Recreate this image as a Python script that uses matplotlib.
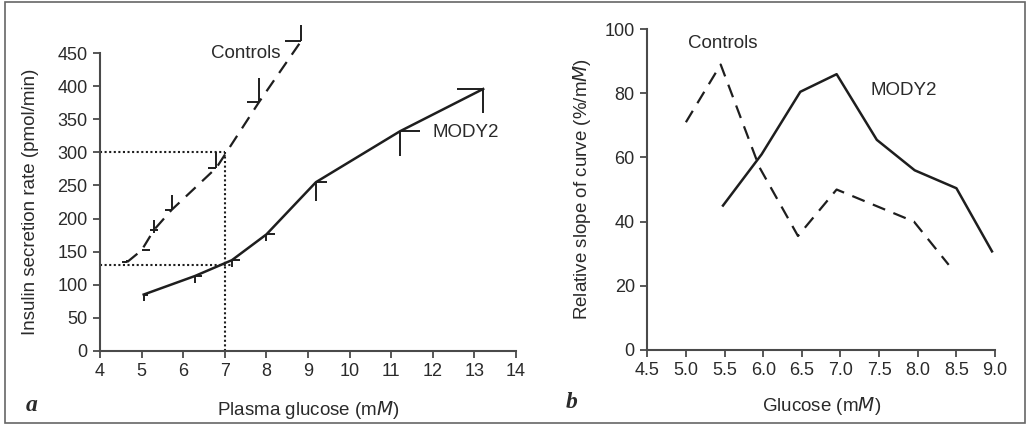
import matplotlib.pyplot as plt
from matplotlib.patches import Rectangle

plt.rcParams['font.family'] = ['Liberation Sans', 'DejaVu Sans']

# panel a: insulin secretion rate vs plasma glucose
ctrl_x = [4.65, 5.0, 5.3, 5.72, 6.8, 7.82, 8.83]
ctrl_y = [134, 152, 183, 213, 277, 376, 468]
ctrl_xerr_lo = [0.12, 0.0, 0.1, 0.16, 0.2, 0.29, 0.38]
ctrl_xerr_hi = [0.0, 0.2, 0.1, 0.0, 0.0, 0.0, 0.0]
ctrl_yerr_lo = [0, 0, 5, 0, 0, 0, 0]
ctrl_yerr_hi = [4, 0, 15, 23, 24, 37, 25]

mody_x = [5.05, 6.28, 7.17, 8.0, 9.19, 11.21, 13.21]
mody_y = [85, 113, 137, 176, 255, 332, 396]
mody_xerr_lo = [0.0, 0.0, 0.0, 0.0, 0.0, 0.0, 0.64]
mody_xerr_hi = [0.1, 0.16, 0.19, 0.2, 0.27, 0.48, 0.0]
mody_yerr_lo = [10, 11, 10, 10, 29, 38, 36]
mody_yerr_hi = [0, 0, 0, 0, 0, 0, 0]

# panel b: relative slope of curve
slope_ctrl_x = [5.0, 5.45, 5.95, 6.45, 6.95, 7.95, 8.4]
slope_ctrl_y = [71, 89, 57, 35.5, 50, 40, 26.5]
slope_mody_x = [5.48, 5.98, 6.48, 6.95, 7.47, 7.96, 8.5, 8.96]
slope_mody_y = [45, 61, 80.5, 86, 65.5, 56, 50.4, 30.7]

ink = '#1e1e1e'
axis_col = '#4a4a4a'
text_col = '#2a2a2a'
fs = 13.5

fig = plt.figure(figsize=(10.3, 4.26), dpi=100)
fig.patches.append(Rectangle((0.005, 0.006), 0.99, 0.99, transform=fig.transFigure,
                             fill=False, edgecolor='#666666', linewidth=1.2))

ax1 = fig.add_axes([0.0971, 0.1767, 0.4039, 0.6982])
ax2 = fig.add_axes([0.6284, 0.179, 0.3377, 0.7522])

for ax in (ax1, ax2):
    for s in ('top', 'right'):
        ax.spines[s].set_visible(False)
    for s in ('left', 'bottom'):
        ax.spines[s].set_color(axis_col)
        ax.spines[s].set_linewidth(1.5)
    ax.tick_params(direction='out', length=5, width=1.3, color=axis_col,
                   labelsize=13, labelcolor=text_col, pad=4)

# panel a
ax1.plot(ctrl_x, ctrl_y, color=ink, lw=1.6, dashes=(6, 4), clip_on=False)
ax1.errorbar(ctrl_x, ctrl_y, xerr=[ctrl_xerr_lo, ctrl_xerr_hi],
             yerr=[ctrl_yerr_lo, ctrl_yerr_hi], fmt='none', ecolor=ink,
             elinewidth=1.4, capsize=0, clip_on=False)
ax1.plot(mody_x, mody_y, color=ink, lw=1.8, clip_on=False)
ax1.errorbar(mody_x, mody_y, xerr=[mody_xerr_lo, mody_xerr_hi],
             yerr=[mody_yerr_lo, mody_yerr_hi], fmt='none', ecolor=ink,
             elinewidth=1.4, capsize=0, clip_on=False)

dot = dict(color=ink, lw=1.5, linestyle=(0, (1, 1.2)))
ax1.plot([4, 7], [300, 300], **dot)
ax1.plot([7, 7], [0, 300], **dot)
ax1.plot([4, 7.15], [130, 130], **dot)

ax1.set_xlim(4, 14)
ax1.set_ylim(0, 450)
ax1.set_xticks(range(4, 15))
ax1.set_yticks(range(0, 451, 50))
ax1.text(7.5, 449, 'Controls', ha='center', va='center', fontsize=fs, color=text_col)
ax1.text(12.0, 330, 'MODY2', ha='left', va='center', fontsize=fs, color=text_col)
ax1.set_xlabel('Plasma glucose (m$\\it{M}$)', fontsize=fs, color=text_col)
ax1.set_ylabel('Insulin secretion rate (pmol/min)', fontsize=fs, color=text_col)
ax1.xaxis.set_label_coords(0.5, -0.198, transform=ax1.transAxes)
ax1.yaxis.set_label_coords(-0.168, 0.5, transform=ax1.transAxes)
ax1.xaxis.label.set_va('center')
ax1.yaxis.label.set_va('center')

# panel b
ax2.plot(slope_ctrl_x, slope_ctrl_y, color=ink, lw=1.6, dashes=(6, 4))
ax2.plot(slope_mody_x, slope_mody_y, color=ink, lw=1.8)
ax2.set_xlim(4.5, 9.0)
ax2.set_ylim(0, 100)
ax2.set_xticks([4.5, 5.0, 5.5, 6.0, 6.5, 7.0, 7.5, 8.0, 8.5, 9.0])
ax2.set_xticklabels(['4.5', '5.0', '5.5', '6.0', '6.5', '7.0', '7.5', '8.0', '8.5', '9.0'])
ax2.set_yticks(range(0, 101, 20))
ax2.text(5.48, 95.5, 'Controls', ha='center', va='center', fontsize=fs, color=text_col)
ax2.text(7.82, 81, 'MODY2', ha='center', va='center', fontsize=fs, color=text_col)
ax2.set_xlabel('Glucose (m$\\it{M}$)', fontsize=fs, color=text_col)
ax2.set_ylabel('Relative slope of curve (%/m$\\it{M}$)', fontsize=fs, color=text_col)
ax2.xaxis.set_label_coords(0.5, -0.176, transform=ax2.transAxes)
ax2.yaxis.set_label_coords(-0.187, 0.5, transform=ax2.transAxes)
ax2.xaxis.label.set_va('center')
ax2.yaxis.label.set_va('center')

fig.text(0.025, 0.035, 'a', fontsize=17, fontweight='bold', fontstyle='italic',
         family='Liberation Serif', color=text_col)
fig.text(0.549, 0.042, 'b', fontsize=17, fontweight='bold', fontstyle='italic',
         family='Liberation Serif', color=text_col)

fig.savefig('out.png', dpi=100)
